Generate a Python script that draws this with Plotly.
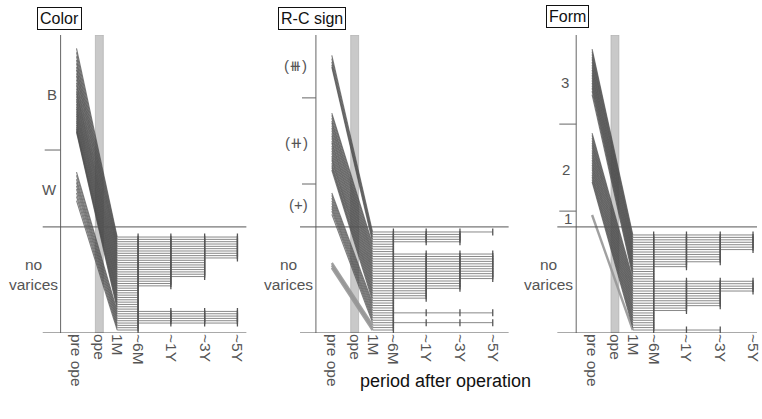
import numpy as np
import plotly.graph_objects as go

# ---------------- data ----------------
PERIOD_LABELS = ["pre ope", "ope", "1M", "~6M", "~1Y", "~3Y", "~5Y"]
PERIOD_X = [16, 39, 57, 78, 111, 145, 178]      # axis scale of the period axis
END_INDEX = {"6M": 3, "1Y": 4, "3Y": 5, "5Y": 6}

# pre-operative grade position (0 = bottom of axis, 100 = top)
COLOR_PRE_B = [95.5, 94.2, 92.8, 91.6, 90.5, 89.2, 88.3, 87.1, 86.2, 85.0, 83.9, 83.1,
               82.0, 81.1, 80.3, 79.4, 78.5, 77.7, 76.8, 76.0, 75.2, 74.4, 73.6, 72.9,
               72.0, 71.3, 70.6, 69.8, 69.1, 68.5, 67.9, 67.4]
COLOR_PRE_W = [54.0, 52.9, 51.6, 50.5, 49.4, 48.3, 47.0, 45.8, 44.4]
COLOR_FOLLOW = ["5Y"] * 10 + ["3Y"] * 8 + ["1Y"] * 4 + ["6M"] * 10 + ["5Y"] * 6 + ["6M"] * 3

RC_PRE_3 = [93.2, 92.1, 91.0, 90.0, 89.2]
RC_PRE_2 = [73.8, 73.0, 72.1, 71.2, 70.5, 69.6, 68.8, 67.9, 67.0, 66.2, 65.3, 64.4,
            63.7, 62.8, 62.0, 61.1, 60.3, 59.4, 58.6, 57.9, 57.0, 56.2, 55.5, 54.7]
RC_PRE_1 = [47.0, 46.2, 45.3, 44.4, 43.5, 42.6, 41.8, 40.9, 39.8]
RC_PRE_0 = [23.5, 22.7, 21.9]
RC_FOLLOW = (["5Y"] * 1 + ["3Y"] * 4 + ["6M"] * 4 + ["5Y"] * 11 + ["3Y"] * 4 + ["1Y"] * 4 +
             ["6M"] * 5 + ["5Y"] * 1 + ["6M"] * 3 + ["5Y"] * 1 + ["6M"] * 3)

FORM_PRE_3 = [95.3, 94.4, 93.5, 92.6, 91.8, 90.9, 90.0, 89.1, 88.3, 87.4, 86.5, 85.7,
              84.8, 83.9, 83.0, 82.2, 81.2, 80.0]
FORM_PRE_2 = [67.1, 66.3, 65.5, 64.6, 63.8, 63.0, 62.2, 61.3, 60.5, 59.7, 58.9, 58.0,
              57.2, 56.4, 55.6, 54.8, 53.9, 53.1, 52.3, 51.5, 50.7]
FORM_PRE_1 = [39.6]
FORM_FOLLOW = (["5Y"] * 7 + ["3Y"] * 5 + ["1Y"] * 2 + ["6M"] * 5 + ["5Y"] * 5 +
               ["3Y"] * 6 + ["1Y"] * 2 + ["6M"] * 7 + ["3Y"] * 1)

NO_VARICES_TOP = 35.6
PANELS = [
    dict(title="Color", pre=[COLOR_PRE_B, COLOR_PRE_W], faint=[False, False],
         follow=COLOR_FOLLOW, bounds=[61.4], labels=[("B", 80.0, -9), ("W", 48.0, -11)],
         row_top=32.2, xr=[-18, 187], px=(43, 248), title_px=(60, 18)),
    dict(title="R-C sign", pre=[RC_PRE_3, RC_PRE_2, RC_PRE_1, RC_PRE_0],
         faint=[False, False, False, True],
         follow=RC_FOLLOW, bounds=[50.0, 78.9],
         labels=[("(⧻)", 89.9, -21), ("(⧺)", 63.8, -20), ("(+)", 43.0, -18)],
         row_top=33.9, xr=[-16, 194], px=(302, 512), title_px=(314, 18)),
    dict(title="Form", pre=[FORM_PRE_3, FORM_PRE_2, FORM_PRE_1], faint=[False, False, True],
         follow=FORM_FOLLOW, bounds=[40.9, 70.1],
         labels=[("3", 84.2, -11), ("2", 54.7, -10), ("1", 38.3, -8)],
         row_top=32.9, xr=[-19, 182], px=(561, 762), title_px=(571, 17)),
]

# ---------------- figure ----------------
W, H = 762, 419
FONT = "Liberation Sans, Arial, Helvetica, sans-serif"
fig = go.Figure()
shapes, annotations = [], []
ydom = [86 / H, 384 / H]


def to_paper(p, xv, yv):
    """data coords of a panel -> paper coords"""
    x0, x1 = p["px"]
    r0, r1 = p["xr"]
    px = x0 + (xv - r0) / (r1 - r0) * (x1 - x0)
    py = ydom[0] + yv / 100 * (ydom[1] - ydom[0])
    return px / W, py


for i, p in enumerate(PANELS):
    n = i + 1
    xa = "x" if n == 1 else f"x{n}"
    ya = "y" if n == 1 else f"y{n}"
    xkey = "xaxis" if n == 1 else f"xaxis{n}"
    ykey = "yaxis" if n == 1 else f"yaxis{n}"

    fig.update_layout(**{
        xkey: dict(domain=[p["px"][0] / W, p["px"][1] / W], range=p["xr"], anchor=ya,
                   showgrid=False, zeroline=False, showline=False, ticks="",
                   tickvals=PERIOD_X, ticktext=PERIOD_LABELS, tickangle=90,
                   ticklabeloverflow="allow",
                   tickfont=dict(family=FONT, size=15.5, color="#555")),
        ykey: dict(domain=ydom, range=[0, 100], anchor=xa, visible=False),
    })

    # operation band
    shapes.append(dict(type="rect", xref=xa, yref=ya, x0=PERIOD_X[1] - 4, x1=PERIOD_X[1] + 4,
                       y0=0, y1=100, fillcolor="#c9c9c9", line=dict(color="#a8a8a8", width=0.6),
                       layer="below"))
    # axis line, baseline, no-varices line, category ticks
    shapes.append(dict(type="line", xref=xa, yref=ya, x0=0, x1=0, y0=0, y1=100,
                       line=dict(color="#666", width=1)))
    shapes.append(dict(type="line", xref=f"{xa} domain", yref=ya, x0=0, x1=1, y0=0, y1=0,
                       line=dict(color="#555", width=1.2)))
    shapes.append(dict(type="line", xref=f"{xa} domain", yref=ya, x0=0, x1=1,
                       y0=NO_VARICES_TOP, y1=NO_VARICES_TOP, line=dict(color="#555", width=1)))
    for b in p["bounds"]:
        shapes.append(dict(type="line", xref=xa, yref=ya, x0=p["xr"][0] + 2, x1=0, y0=b, y1=b,
                           line=dict(color="#666", width=1)))

    # rows after operation
    follow = p["follow"]
    rows_y = np.linspace(p["row_top"], 1.0, len(follow))
    pre_all = []
    faint_all = []
    for grp, fa in zip(p["pre"], p["faint"]):
        pre_all += grp
        faint_all += [fa] * len(grp)
    order = np.argsort(pre_all)[::-1]

    dx, dy, fx, fy = [], [], [], []
    for k, idx in enumerate(order):
        seg = ([PERIOD_X[0], PERIOD_X[2], None], [pre_all[idx], rows_y[k], None])
        if faint_all[idx]:
            fx += seg[0]; fy += seg[1]
        else:
            dx += seg[0]; dy += seg[1]
    fig.add_trace(go.Scatter(x=fx, y=fy, xaxis=xa, yaxis=ya, mode="lines",
                             line=dict(color="rgba(150,150,150,0.9)", width=2.4),
                             hoverinfo="skip", showlegend=False))
    fig.add_trace(go.Scatter(x=dx, y=dy, xaxis=xa, yaxis=ya, mode="lines",
                             line=dict(color="rgba(70,70,70,0.7)", width=1.1),
                             hoverinfo="skip", showlegend=False))

    hx, hy, mx, my = [], [], [], []
    for yv, f in zip(rows_y, follow):
        e = END_INDEX[f]
        hx += [PERIOD_X[2], PERIOD_X[e], None]
        hy += [yv, yv, None]
        for j in range(3, e + 1):
            mx.append(PERIOD_X[j]); my.append(yv)
    fig.add_trace(go.Scatter(x=hx, y=hy, xaxis=xa, yaxis=ya, mode="lines",
                             line=dict(color="rgba(130,130,130,0.95)", width=1),
                             hoverinfo="skip", showlegend=False))
    fig.add_trace(go.Scatter(x=mx, y=my, xaxis=xa, yaxis=ya, mode="markers",
                             marker=dict(symbol="line-ns", size=5,
                                         line=dict(color="#555", width=1.3)),
                             hoverinfo="skip", showlegend=False))

    # category labels
    for txt, yv, xo in p["labels"]:
        ax_, ay_ = to_paper(p, xo, yv)
        annotations.append(dict(xref="paper", yref="paper", x=ax_, y=ay_, text=txt,
                                xanchor="center", yanchor="middle", showarrow=False,
                                font=dict(family=FONT, size=15, color="#555")))
    ax_, ay_ = to_paper(p, -1, 19.5)
    annotations.append(dict(xref="paper", yref="paper", x=ax_, y=ay_, xanchor="right",
                            yanchor="middle", text="no<br>varices", showarrow=False,
                            align="center",
                            font=dict(family=FONT, size=15.5, color="#555")))
    # title box
    annotations.append(dict(xref="paper", yref="paper", x=p["title_px"][0] / W,
                            y=1 - p["title_px"][1] / H, text=p["title"], showarrow=False,
                            xanchor="center", yanchor="middle",
                            bordercolor="#111", borderwidth=1, borderpad=2, bgcolor="white",
                            font=dict(family=FONT, size=16, color="#111")))

annotations.append(dict(xref="paper", yref="paper", x=448 / W, y=1 - 381 / H,
                        xanchor="center", yanchor="middle",
                        text="period after operation", showarrow=False,
                        font=dict(family=FONT, size=18, color="#111")))

fig.update_layout(width=W, height=H, margin=dict(l=0, r=0, t=0, b=0),
                  paper_bgcolor="white", plot_bgcolor="white",
                  shapes=shapes, annotations=annotations, showlegend=False)
fig.write_html("out.html", config={"displayModeBar": False},
               post_script="document.body.style.margin='0';document.body.style.overflow='hidden';")
